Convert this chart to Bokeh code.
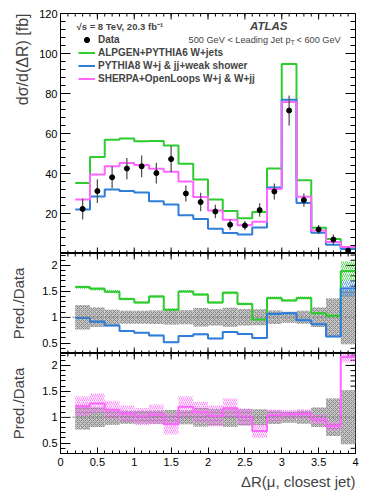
import numpy as np
from bokeh.plotting import figure
from bokeh.models import (ColumnDataSource, FixedTicker, Label, Legend,
                          LegendItem, Span, Range1d, Title)
from bokeh.layouts import column
from bokeh.embed import file_html
from bokeh.resources import INLINE

# ---------------- data ----------------
bin_edges = [0.2, 0.4, 0.6, 0.8, 1.0, 1.2, 1.4, 1.6, 1.8, 2.0, 2.2,
             2.4, 2.6, 2.8, 3.0, 3.2, 3.4, 3.6, 3.8, 4.0]
data_vals = [22.3, 31.2, 38.1, 42.5, 43.6, 40.2, 47.2, 30.0, 25.7, 21.0,
             14.4, 14.0, 21.7, 31.0, 71.5, 26.7, 12.0, 7.0, 1.48]
data_err_rel = [0.235, 0.19, 0.145, 0.125, 0.125, 0.13, 0.14, 0.135, 0.18, 0.16,
                0.185, 0.16, 0.155, 0.13, 0.105, 0.125, 0.19, 0.36, 0.52]
alpgen_vals = [35.3, 48.3, 56.9, 57.5, 56.1, 56.3, 54.0, 44.9, 37.0, 27.0,
               21.2, 17.6, 20.8, 42.5, 94.7, 36.6, 12.9, 7.2, 2.8]
alpgen_unc_rel = [0.02, 0.02, 0.02, 0.02, 0.02, 0.02, 0.02, 0.02, 0.02, 0.02,
                  0.02, 0.02, 0.02, 0.02, 0.02, 0.02, 0.02, 0.03, 0.10]
pythia_vals = [22.0, 28.5, 32.0, 31.3, 30.5, 26.1, 24.5, 19.1, 17.2, 12.4,
               10.3, 9.5, 13.0, 33.0, 76.9, 25.2, 10.4, 4.4, 2.3]
pythia_unc_rel = [0.025, 0.025, 0.025, 0.025, 0.025, 0.025, 0.025, 0.025, 0.025, 0.025,
                  0.025, 0.025, 0.025, 0.025, 0.025, 0.025, 0.025, 0.03, 0.10]
sherpa_vals = [27.0, 39.5, 43.6, 45.3, 44.2, 42.4, 40.9, 36.0, 28.2, 21.5,
               16.9, 14.1, 15.9, 32.2, 75.7, 28.4, 11.5, 5.8, 3.2]
sherpa_unc_rel = [0.16, 0.15, 0.15, 0.15, 0.16, 0.18, 0.23, 0.17, 0.18, 0.20,
                  0.16, 0.16, 0.18, 0.11, 0.08, 0.09, 0.10, 0.10, 0.05]

x_ticks = [0, 0.5, 1, 1.5, 2, 2.5, 3, 3.5, 4]
x_tick_labels = ["0", "0.5", "1", "1.5", "2", "2.5", "3", "3.5", "4"]
top_y_ticks = [20, 40, 60, 80, 100, 120]
top_y_tick_labels = ["20", "40", "60", "80", "100", "120"]
ratio_y_ticks = [0.5, 1, 1.5, 2]
ratio_y_tick_labels = ["0.5", "1", "1.5", "2"]

legend_labels = ["Data", "ALPGEN+PYTHIA6 W+jets",
                 "PYTHIA8 W+j & jj+weak shower", "SHERPA+OpenLoops W+j & W+jj"]

# ---------------- style ----------------
FONT = "Liberation Sans"
GREEN = "#2ecc2e"
BLUE = "#2f7ed8"
PINK = "#ff66ff"
FW = 295
XR = (0, 4)

edges = np.array(bin_edges)
left = edges[:-1]
right = edges[1:]
centers = 0.5 * (left + right)
d = np.array(data_vals)
derr = d * np.array(data_err_rel)

x_minor = np.round(np.arange(0, 4.001, 0.1), 2)


def step_y(v):
    v = list(v)
    return v + [v[-1]]


def make_fig(h, yr, top, bottom):
    p = figure(frame_width=FW, frame_height=h,
               x_range=Range1d(*XR), y_range=Range1d(*yr),
               output_backend="svg", toolbar_location=None,
               min_border_left=60, min_border_right=9,
               min_border_top=top, min_border_bottom=bottom,
               background_fill_color="white", border_fill_color="white",
               outline_line_color="black", outline_line_width=1)
    p.xgrid.visible = False
    p.ygrid.visible = False
    return p


def style_axis(ax, ticks, labels, minor, major_len, minor_len, standoff):
    ax.ticker = FixedTicker(ticks=ticks, minor_ticks=list(minor))
    ax.major_tick_in = major_len
    ax.major_tick_out = 0
    ax.minor_tick_in = minor_len
    ax.minor_tick_out = 0
    ax.axis_line_color = "black"
    ax.major_tick_line_color = "black"
    ax.minor_tick_line_color = "black"
    ax.major_label_overrides = {float(t): l for t, l in zip(ticks, labels)}
    ax.major_label_text_font = FONT
    ax.major_label_text_font_size = "11px"
    ax.major_label_text_color = "black"
    ax.major_label_standoff = standoff


def edge_ticks(p, yr, h, yticks, yminor, bottom_too):
    """Inward tick marks on the top, right (and optionally bottom) frame edges."""
    ys = (yr[1] - yr[0]) / h
    xs = (XR[1] - XR[0]) / FW
    for pos, L in ((np.array(x_ticks, float), 6), (x_minor, 3)):
        n = len(pos)
        p.segment(x0=pos, y0=np.full(n, yr[1]), x1=pos, y1=np.full(n, yr[1] - L * ys),
                  line_color="black", line_width=1)
        if bottom_too:
            p.segment(x0=pos, y0=np.full(n, yr[0]), x1=pos, y1=np.full(n, yr[0] + L * ys),
                      line_color="black", line_width=1)
    for pos, L in ((np.array(yticks, float), 10), (np.array(yminor, float), 5)):
        n = len(pos)
        p.segment(x0=np.full(n, XR[1]), y0=pos, x1=np.full(n, XR[1] - L * xs), y1=pos,
                  line_color="black", line_width=1)


# ---------------- top panel ----------------
TOP_YR = (0, 120)
TOP_H = 240
top_minor = np.arange(0, 121, 4)
p1 = make_fig(TOP_H, TOP_YR, 13, 0)
p1.xaxis.visible = False
style_axis(p1.yaxis[0], top_y_ticks, top_y_tick_labels, top_minor, 10, 5, 3)
edge_ticks(p1, TOP_YR, TOP_H, top_y_ticks, top_minor, True)

src = ColumnDataSource(dict(x=list(edges), g=step_y(alpgen_vals),
                            b=step_y(pythia_vals), s=step_y(sherpa_vals)))
r_g = p1.step("x", "g", source=src, mode="after", line_color=GREEN, line_width=2)
r_b = p1.step("x", "b", source=src, mode="after", line_color=BLUE, line_width=2)
r_s = p1.step("x", "s", source=src, mode="after", line_color=PINK, line_width=2)

dsrc = ColumnDataSource(dict(x=centers, y=d, lo=d - derr, hi=d + derr))
p1.segment(x0="x", y0="lo", x1="x", y1="hi", source=dsrc, line_color="#555555", line_width=1.3)
r_d = p1.scatter("x", "y", source=dsrc, size=5, color="black")

legend = Legend(items=[LegendItem(label=legend_labels[0], renderers=[r_d]),
                       LegendItem(label=legend_labels[1], renderers=[r_g]),
                       LegendItem(label=legend_labels[2], renderers=[r_b]),
                       LegendItem(label=legend_labels[3], renderers=[r_s])],
                location=(18, 168), border_line_color=None, background_fill_alpha=0,
                label_text_font=FONT, label_text_font_style="bold",
                label_text_font_size="10px", glyph_width=17, glyph_height=13,
                label_height=13, label_standoff=3, spacing=0, padding=0, margin=0)
p1.add_layout(legend)


# text positions: page pixel -> data units of the top panel
def px_to_x(px):
    return (px - 60) * (XR[1] - XR[0]) / FW


def py_to_y(py):
    return TOP_YR[0] + (13 + TOP_H - py) * (TOP_YR[1] - TOP_YR[0]) / TOP_H


def top_text(px, py, text, size, style="normal", align="left"):
    p1.add_layout(Label(x=px_to_x(px), y=py_to_y(py), text=text, text_font=FONT,
                        text_font_style=style, text_font_size=size,
                        text_align=align, text_baseline="middle"))


top_text(76, 25.5, "\u221as = 8 TeV, 20.3 fb\u207b\u00b9", "9.5px", "bold")
top_text(287, 25.5, "ATLAS", "11.5px", "bold italic", "right")
top_text(290, 39, "500 GeV < Leading Jet p", "9.2px", "normal", "right")
top_text(290.3, 42, "T", "6.5px")
top_text(296, 39, "< 600 GeV", "9.2px")

p1.add_layout(Title(text="d\u03c3/d(\u0394R) [fb]", align="right", standoff=12,
                    text_font=FONT, text_font_size="16px", text_font_style="normal"),
              "left")

# ---------------- ratio panels ----------------
RATIO_YR = (0.3, 2.23)
ratio_minor = np.round(np.arange(0.3, 2.25, 0.1), 2)


def ratio_panel(models, bottom, show_x):
    p = make_fig(100, RATIO_YR, 0, bottom)
    style_axis(p.yaxis[0], ratio_y_ticks, ratio_y_tick_labels, ratio_minor, 10, 5, 3)
    p.yaxis[0].axis_label = "Pred./Data"
    p.yaxis[0].axis_label_text_font = FONT
    p.yaxis[0].axis_label_text_font_size = "15px"
    p.yaxis[0].axis_label_text_font_style = "normal"
    p.yaxis[0].axis_label_standoff = 12
    if show_x:
        style_axis(p.xaxis[0], x_ticks, x_tick_labels, x_minor, 6, 3, 4)
    else:
        p.xaxis.visible = False
    edge_ticks(p, RATIO_YR, 100, ratio_y_ticks, ratio_minor, not show_x)

    er = np.array(data_err_rel)
    p.quad(left=left, right=right, bottom=1 - er, top=1 + er,
           fill_color="#c4c4c4", line_color=None,
           hatch_pattern="diagonal_cross", hatch_color="#8a8a8a",
           hatch_scale=4, hatch_weight=1)
    for vals, unc, col in models:
        r = np.array(vals) / d
        u = np.array(unc)
        p.quad(left=left, right=right, bottom=r * (1 - u), top=r * (1 + u),
               fill_color=None, line_color=None, hatch_pattern="right_diagonal_line",
               hatch_color=col, hatch_alpha=0.8, hatch_scale=4, hatch_weight=1)
    p.add_layout(Span(location=1, dimension="width", line_color="#777777",
                      line_dash="2 2", line_width=1))
    for vals, unc, col in models:
        r = np.array(vals) / d
        p.step(x=list(edges), y=step_y(r), mode="after", line_color=col, line_width=2)
    return p


p2 = ratio_panel([(alpgen_vals, alpgen_unc_rel, GREEN),
                  (pythia_vals, pythia_unc_rel, BLUE)], 0, False)
p3 = ratio_panel([(sherpa_vals, sherpa_unc_rel, PINK)], 40, True)
p3.add_layout(Title(text="\u0394R(\u03bc, closest jet)", align="right", standoff=4,
                    text_font=FONT, text_font_size="15px", text_font_style="normal"),
              "below")

layout = column(p1, p2, p3, spacing=0)
open("out.html", "w").write(file_html(layout, INLINE))
